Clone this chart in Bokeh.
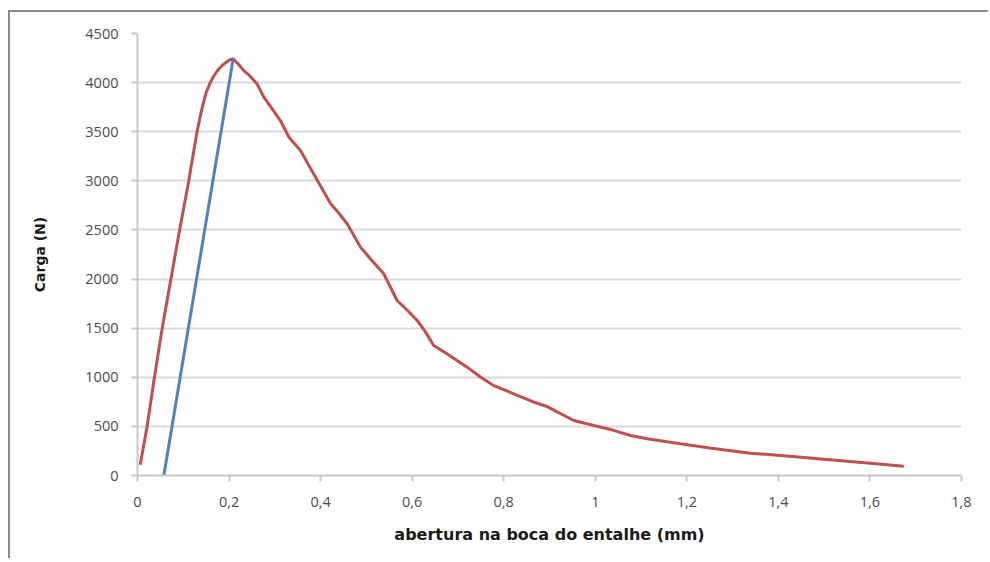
from bokeh.plotting import figure
from bokeh.models import FixedTicker, Range1d
from bokeh.embed import file_html
from bokeh.resources import INLINE

# Red curve: load vs. notch mouth opening
x_curve = [0.006, 0.021, 0.037, 0.054, 0.073, 0.092, 0.112, 0.130, 0.140, 0.150,
           0.159, 0.167, 0.176, 0.186, 0.196, 0.203, 0.209, 0.220, 0.232, 0.245,
           0.261, 0.276, 0.293, 0.312, 0.331, 0.356, 0.375, 0.393, 0.422, 0.440,
           0.458, 0.487, 0.510, 0.538, 0.567, 0.590, 0.611, 0.628, 0.647, 0.676,
           0.720, 0.750, 0.778, 0.822, 0.866, 0.895, 0.953, 0.997, 1.040, 1.077,
           1.113, 1.186, 1.250, 1.339, 1.405, 1.500, 1.601, 1.674]
y_curve = [110, 500, 1000, 1500, 2000, 2500, 3000, 3500, 3720, 3900,
           4000, 4070, 4130, 4180, 4215, 4235, 4242, 4190, 4123, 4070,
           3988, 3852, 3740, 3614, 3444, 3309, 3150, 3003, 2766, 2670,
           2563, 2325, 2200, 2053, 1782, 1680, 1578, 1470, 1323, 1239,
           1103, 1000, 916, 832, 746, 702, 560, 509, 460, 407,
           374, 323, 280, 227, 204, 165, 125, 95]

# Blue line: unloading stiffness line
x_line = [0.0575, 0.209]
y_line = [0, 4242]

x_ticks = [0, 0.2, 0.4, 0.6, 0.8, 1.0, 1.2, 1.4, 1.6, 1.8]
x_tick_labels = ["0", "0,2", "0,4", "0,6", "0,8", "1", "1,2", "1,4", "1,6", "1,8"]
y_ticks = [0, 500, 1000, 1500, 2000, 2500, 3000, 3500, 4000, 4500]

p = figure(width=980, height=548, output_backend="svg", toolbar_location=None,
           x_range=Range1d(0, 1.8), y_range=Range1d(0, 4500),
           min_border_left=127, min_border_right=29, min_border_top=21, min_border_bottom=85)
p.styles = {"border-left": "2px solid #8c8c8c", "border-top": "2px solid #8c8c8c",
            "margin-left": "8px", "margin-top": "10px"}
p.outline_line_color = None
p.background_fill_color = "white"
p.border_fill_color = "white"

p.line(x_curve, y_curve, line_color="#c0504d", line_width=3)
p.line(x_line, y_line, line_color="#4f81bd", line_width=3)

p.xaxis.ticker = FixedTicker(ticks=x_ticks)
p.xaxis.major_label_overrides = {t: l for t, l in zip(x_ticks, x_tick_labels)}
p.yaxis.ticker = FixedTicker(ticks=y_ticks)
p.yaxis.major_label_overrides = {t: str(t) for t in y_ticks}

for ax in (p.xaxis[0], p.yaxis[0]):
    ax.axis_line_color = "#c8c8c8"
    ax.axis_line_width = 2
    ax.major_tick_line_color = "#c8c8c8"
    ax.major_tick_line_width = 2
    ax.major_tick_out = 6
    ax.major_tick_in = 0
    ax.minor_tick_line_color = None
    ax.major_label_text_font = "Open Sans"
    ax.major_label_text_font_size = "14.5px"
    ax.major_label_text_color = "#4d4d4d"
    ax.axis_label_text_font = "DejaVu Sans"
    ax.axis_label_text_font_style = "bold"
    ax.axis_label_text_color = "#1a1a1a"

p.xaxis.axis_label = "abertura na boca do entalhe (mm)"
p.xaxis.axis_label_text_font_size = "16px"
p.xaxis.major_label_standoff = 15
p.xaxis.axis_label_standoff = 15
p.yaxis.axis_label = "Carga (N)"
p.yaxis.axis_label_text_font_size = "14px"
p.yaxis.major_label_standoff = 13
p.yaxis.axis_label_standoff = 34

p.xgrid.grid_line_color = None
p.ygrid.grid_line_color = "#d9d9d9"
p.ygrid.grid_line_width = 2

open("out.html", "w").write(file_html(p, INLINE))
